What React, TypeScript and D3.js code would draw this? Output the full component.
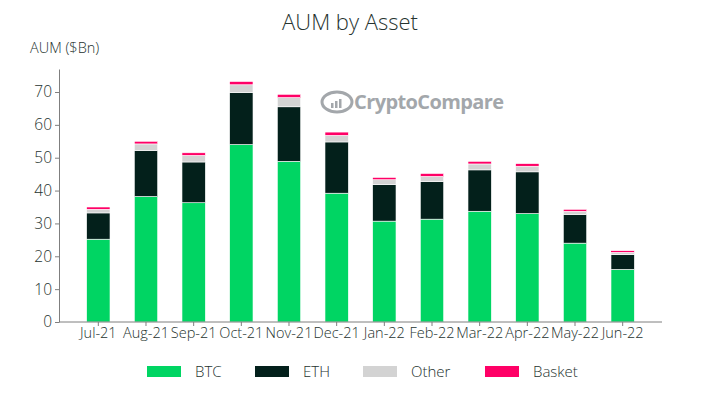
import React, { useRef, useEffect } from "react";
import * as d3 from "d3";

// monthly AUM split by asset, $Bn
const months = ["Jul-21", "Aug-21", "Sep-21", "Oct-21", "Nov-21", "Dec-21", "Jan-22", "Feb-22", "Mar-22", "Apr-22", "May-22", "Jun-22"];
const btc = [25.2, 38.2, 36.3, 54.0, 48.9, 39.2, 30.7, 31.3, 33.7, 33.0, 24.0, 16.0];
const eth = [8.0, 14.0, 12.4, 15.8, 16.6, 15.6, 11.1, 11.4, 12.6, 12.7, 8.7, 4.5];
const other = [1.1, 2.0, 2.0, 2.4, 2.8, 2.0, 1.5, 1.6, 1.8, 1.7, 1.0, 0.7];
const basket = [0.7, 0.8, 0.8, 1.0, 1.0, 1.0, 0.7, 0.9, 0.8, 0.8, 0.6, 0.5];
const seriesNames = ["BTC", "ETH", "Other", "Basket"];
const yTicks = [0, 10, 20, 30, 40, 50, 60, 70];

const colors = ["#00d563", "#03201b", "#d3d3d3", "#ff0066"];
const textColor = "#26332f";
const font = "'Open Sans', sans-serif";

const App = () => {
  const svgRef = useRef(null);

  useEffect(() => {
    const svg = d3.select(svgRef.current);
    svg.selectAll("*").remove();

    const rows = months.map((m, i) => ({
      month: m,
      BTC: btc[i],
      ETH: eth[i],
      Other: other[i],
      Basket: basket[i],
    }));
    const stacked = d3.stack().keys(seriesNames)(rows);

    const left = 59;
    const right = 662;
    const xScale = d3
      .scaleBand()
      .domain(months)
      .range([left, right])
      .paddingInner(0.51)
      .paddingOuter(0.58);
    const yScale = d3.scaleLinear().domain([0, 77]).range([322, 69]);

    // title
    svg
      .append("text")
      .attr("x", 350)
      .attr("y", 30)
      .attr("text-anchor", "middle")
      .attr("fill", textColor)
      .style("font-family", font)
      .style("font-weight", 300)
      .style("font-size", "22px")
      .text("AUM by Asset");

    svg
      .append("text")
      .attr("x", 30)
      .attr("y", 53)
      .attr("fill", textColor)
      .style("font-family", font)
      .style("font-weight", 300)
      .style("font-size", "14.5px")
      .text("AUM ($Bn)");

    // watermark
    const wm = svg.append("g").attr("fill", "#a3a7ab");
    wm.append("ellipse")
      .attr("cx", 337)
      .attr("cy", 102)
      .attr("rx", 15)
      .attr("ry", 10)
      .attr("fill", "none")
      .attr("stroke", "#a3a7ab")
      .attr("stroke-width", 3);
    [0, 1, 2].forEach((k) => {
      wm.append("rect")
        .attr("x", 331 + k * 4)
        .attr("y", 103 - k * 2)
        .attr("width", 2.5)
        .attr("height", 5 + k * 2);
    });
    wm.append("text")
      .attr("x", 354)
      .attr("y", 109)
      .style("font-family", font)
      .style("font-weight", 700)
      .style("font-size", "20px")
      .style("letter-spacing", "-0.6px")
      .text("CryptoCompare");

    // bars
    const layers = svg
      .append("g")
      .selectAll("g")
      .data(stacked)
      .join("g")
      .attr("fill", (d, i) => colors[i]);

    layers
      .selectAll("rect")
      .data((d) => d)
      .join("rect")
      .attr("x", (d) => xScale(d.data.month))
      .attr("y", (d) => yScale(d[1]))
      .attr("width", xScale.bandwidth())
      .attr("height", (d) => yScale(d[0]) - yScale(d[1]))
      .attr("stroke", "#ffffff")
      .attr("stroke-width", 0.6);

    // y axis
    const yAxisG = svg
      .append("g")
      .attr("transform", `translate(${left},0)`)
      .call(d3.axisLeft(yScale).tickValues(yTicks).tickSize(4).tickSizeOuter(0));
    yAxisG.select(".domain").attr("stroke", "#7f7f7f");
    yAxisG.selectAll(".tick line").attr("stroke", "#7f7f7f");
    yAxisG
      .selectAll(".tick text")
      .attr("fill", textColor)
      .attr("x", -7)
      .style("font-family", font)
      .style("font-size", "15.5px")
      .style("font-weight", 300);

    // x axis
    const xAxisG = svg
      .append("g")
      .attr("transform", `translate(0,${yScale(0)})`)
      .call(d3.axisBottom(xScale).tickSize(4).tickSizeOuter(0));
    xAxisG
      .select(".domain")
      .attr("stroke", "#7f7f7f")
      .attr("d", `M${left},0H${right}`);
    xAxisG.selectAll(".tick line").attr("stroke", "#7f7f7f");
    xAxisG
      .selectAll(".tick text")
      .attr("fill", textColor)
      .attr("y", 6)
      .style("font-family", font)
      .style("font-size", "14.5px")
      .style("font-weight", 300);

    // legend
    const legendX = [147, 255, 363, 485];
    const legend = svg
      .append("g")
      .selectAll("g")
      .data(seriesNames)
      .join("g")
      .attr("transform", (d, i) => `translate(${legendX[i]},366)`);
    legend
      .append("rect")
      .attr("width", 34)
      .attr("height", 11)
      .attr("fill", (d, i) => colors[i]);
    legend
      .append("text")
      .attr("x", 48)
      .attr("y", 11)
      .attr("fill", textColor)
      .style("font-family", font)
      .style("font-size", "15px")
      .style("font-weight", 300)
      .text((d) => d);
  }, []);

  return (
    <svg
      ref={svgRef}
      width={712}
      height={395}
      style={{ position: "absolute", left: 0, top: 0, background: "#fff" }}
    />
  );
};

export default App;
